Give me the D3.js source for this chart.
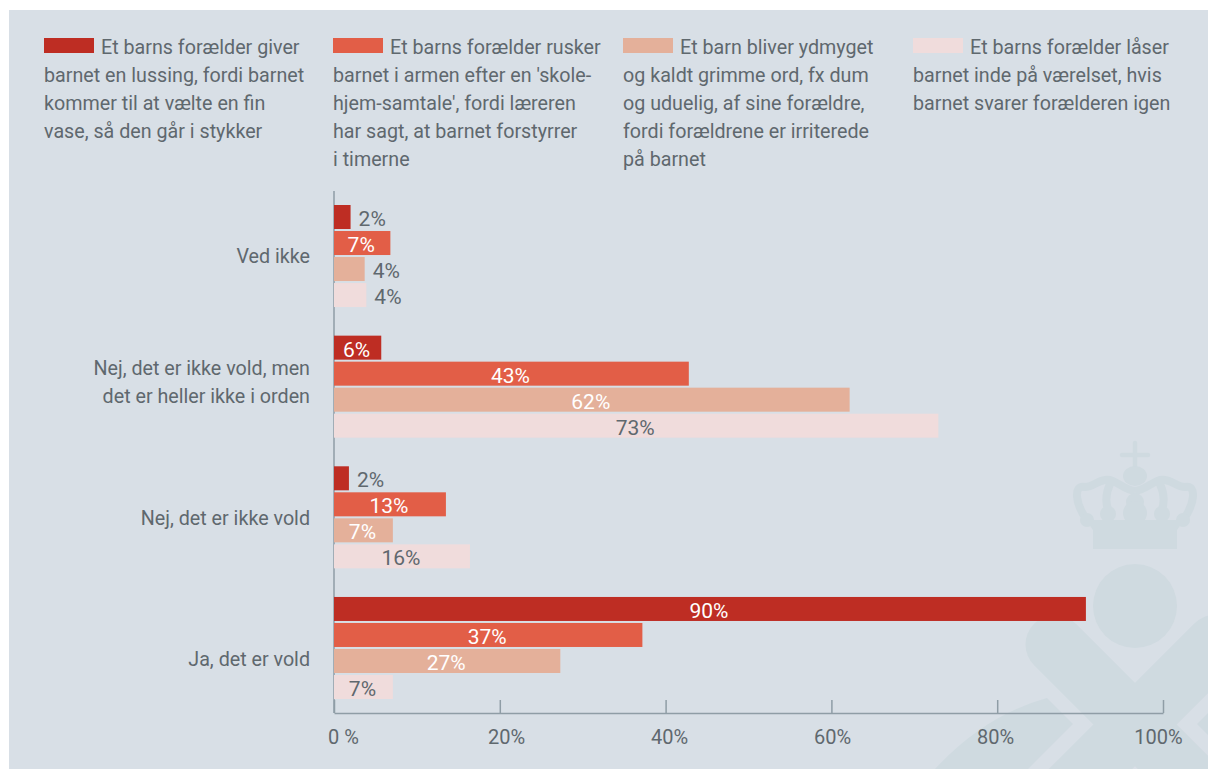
<!DOCTYPE html>
<html>
<head>
<meta charset="utf-8">
<script src="https://cdn.jsdelivr.net/npm/d3@7"></script>
<style>
  html, body { margin: 0; padding: 0; background: #fff; }
  svg text { font-family: Roboto, sans-serif; }
</style>
</head>
<body>
<script>
// data
const categories = ["Ved ikke", "Nej, det er ikke vold, men|det er heller ikke i orden", "Nej, det er ikke vold", "Ja, det er vold"];
const seriesNames = ["s1", "s2", "s3", "s4"];
const s1 = [2.0, 5.7, 1.8, 90.7];
const s2 = [6.8, 42.8, 13.5, 37.2];
const s3 = [3.7, 62.2, 7.1, 27.3];
const s4 = [3.9, 72.9, 16.4, 7.1];
const s1Labels = ["2%", "6%", "2%", "90%"];
const s2Labels = ["7%", "43%", "13%", "37%"];
const s3Labels = ["4%", "62%", "7%", "27%"];
const s4Labels = ["4%", "73%", "16%", "7%"];
const axisTicks = [0, 20, 40, 60, 80, 100];
const axisTickLabels = ["0 %", "20%", "40%", "60%", "80%", "100%"];
const legendLines = [
  ["Et barns forælder giver", "barnet en lussing, fordi barnet", "kommer til at vælte en fin", "vase, så den går i stykker"],
  ["Et barns forælder rusker", "barnet i armen efter en 'skole-", "hjem-samtale', fordi læreren", "har sagt, at barnet forstyrrer", "i timerne"],
  ["Et barn bliver ydmyget", "og kaldt grimme ord, fx dum", "og uduelig, af sine forældre,", "fordi forældrene er irriterede", "på barnet"],
  ["Et barns forælder låser", "barnet inde på værelset, hvis", "barnet svarer forælderen igen"],
];
// ----------

const W = 1208;
const H = 769;
const colors = ["#be2d23", "#e25e47", "#e4b09a", "#f0dcdc"];
const bgCol = "#d8dfe6";
const logoCol = "#cfdae0";
const textCol = "#5f686e";
const axisCol = "#8f9da6";
const values = [s1, s2, s3, s4];
const labels = [s1Labels, s2Labels, s3Labels, s4Labels];
const legendX = [44, 333, 623, 913];
const catNudge = [0, -5, 1, 11];

const svg = d3.select("body").append("svg")
  .attr("width", W)
  .attr("height", H)
  .style("display", "block");

svg.append("rect")
  .attr("x", 9).attr("y", 10)
  .attr("width", W - 9).attr("height", H - 10)
  .attr("fill", bgCol);

// watermark logo
const logo = svg.append("g");
logo.selectAll("path.arm")
  .data(["M1055,644.5L1240,829.5", "M1215,644.5L1030,829.5"])
  .enter().append("path")
  .attr("d", (d) => d)
  .attr("stroke", logoCol)
  .attr("stroke-width", 59)
  .attr("stroke-linecap", "round")
  .attr("fill", "none");
logo.append("path")
  .attr("d", "M935,769Q985,715 1047,698L1073,724L1028,769Z M1197,724L1208,713L1208,735Z")
  .attr("fill", logoCol);
logo.append("circle").attr("cx", 1135).attr("cy", 606).attr("r", 42).attr("fill", logoCol);
logo.append("rect").attr("x", 1093).attr("y", 528).attr("width", 84).attr("height", 21).attr("fill", logoCol);
logo.append("path")
  .attr("d", "M1135,443V470 M1122,455H1148")
  .attr("stroke", logoCol).attr("stroke-width", 4.5).attr("stroke-linecap", "round").attr("fill", "none");
logo.append("ellipse").attr("cx", 1135).attr("cy", 476).attr("rx", 12).attr("ry", 10).attr("fill", logoCol);
logo.selectAll("path.arch")
  .data([-1, 1])
  .enter().append("path")
  .attr("d", (s) => {
    const x = (d) => 1135 + s * d;
    return `M${x(0)},491 C${x(12)},490 ${x(20)},478 ${x(30)},480 C${x(38)},481 ${x(42)},487 ${x(50)},487`
      + ` C${x(62)},484 ${x(60)},504 ${x(48)},520 M${x(25)},484 C${x(30)},495 ${x(30)},503 ${x(26)},512`;
  })
  .attr("stroke", logoCol).attr("stroke-width", 8).attr("fill", "none");
logo.selectAll("circle.ball")
  .data([[1135, 502, 9], [1135, 513, 12], [1108, 514, 8], [1162, 514, 8], [1087, 520, 7], [1183, 520, 7]])
  .enter().append("circle")
  .attr("cx", (d) => d[0]).attr("cy", (d) => d[1]).attr("r", (d) => d[2])
  .attr("fill", logoCol);
logo.append("path")
  .attr("d", "M1086,520L1184,520L1177,530L1093,530Z")
  .attr("fill", logoCol);
// ----------

// legend
legendLines.forEach((lines, i) => {
  svg.append("rect")
    .attr("x", legendX[i]).attr("y", 38)
    .attr("width", 50).attr("height", 15)
    .attr("fill", colors[i]);
  lines.forEach((line, j) => {
    svg.append("text")
      .attr("x", legendX[i] + (j === 0 ? 57 : 0))
      .attr("y", 54 + j * 28)
      .attr("font-size", 19.7)
      .attr("fill", textCol)
      .text(line);
  });
});
// ----------

// scales
const x = d3.scaleLinear().domain([0, 100]).range([334, 1163]);
const xLabel = d3.scaleLinear().domain([0, 100]).range([343, 1158]);
const y = d3.scaleBand().domain(categories).range([205, 699]).paddingInner(0.219);
const ySub = d3.scaleBand().domain(seriesNames).range([0, y.bandwidth()]).paddingInner(0.077);

// axes (under the bars)
svg.append("line")
  .attr("x1", x(0)).attr("x2", x(0))
  .attr("y1", 191).attr("y2", 713)
  .attr("stroke", axisCol)
  .attr("stroke-width", 1.5);

const xAxis = svg.append("g")
  .attr("transform", "translate(0, 713)")
  .call(d3.axisBottom(x)
    .tickValues(axisTicks)
    .tickSizeInner(-13)
    .tickSizeOuter(0)
    .tickFormat((d, i) => axisTickLabels[i]));
xAxis.select(".domain").attr("stroke", axisCol).attr("stroke-width", 1.5);
xAxis.selectAll(".tick line").attr("stroke", axisCol).attr("stroke-width", 1.5);
xAxis.selectAll(".tick text")
  .attr("x", (d) => xLabel(d) - x(d))
  .attr("y", 31)
  .attr("dy", 0)
  .attr("font-size", 20)
  .attr("fill", textCol);
// ----------

// bars
const groups = svg.selectAll("g.group")
  .data(categories)
  .enter().append("g")
  .attr("class", "group")
  .attr("transform", (d) => `translate(0, ${y(d)})`);

seriesNames.forEach((name, si) => {
  groups.append("rect")
    .attr("x", x(0))
    .attr("y", ySub(name))
    .attr("height", ySub.bandwidth())
    .attr("width", (d, ci) => x(values[si][ci]) - x(0))
    .attr("fill", colors[si]);

  groups.append("text")
    .attr("x", (d, ci) => {
      const v = values[si][ci];
      return v < 5 ? x(v) + 8 : (x(0) + x(v)) / 2 - 1;
    })
    .attr("y", ySub(name) + ySub.bandwidth() / 2 + 9)
    .attr("text-anchor", (d, ci) => (values[si][ci] < 5 ? "start" : "middle"))
    .attr("font-size", 21)
    .attr("fill", (d, ci) => (values[si][ci] < 5 || si === 3 ? textCol : "#fff"))
    .text((d, ci) => labels[si][ci]);
});
// ----------

// category labels
categories.forEach((c, i) => {
  const parts = c.split("|");
  parts.forEach((part, j) => {
    svg.append("text")
      .attr("x", 310)
      .attr("y", y(c) + y.bandwidth() / 2 + catNudge[i] + (j - (parts.length - 1) / 2) * 28 + 7)
      .attr("text-anchor", "end")
      .attr("font-size", 19.7)
      .attr("fill", textCol)
      .text(part);
  });
});
// ----------
</script>
</body>
</html>
